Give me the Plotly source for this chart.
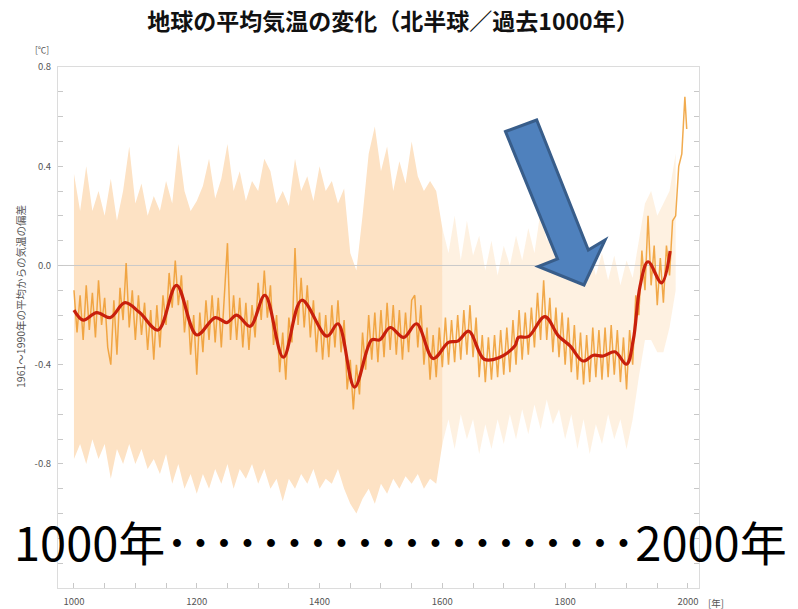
import plotly.graph_objects as go

# ---------------- data ----------------
title_text = "地球の平均気温の変化（北半球／過去1000年）"
y_title_text = "1961～1990年の平均からの気温の偏差"
big_text = "1000年" + "･" * 20 + "2000年"

band1_years = list(range(1000, 1601, 10))
band1_upper = [0.37, 0.22, 0.40, 0.22, 0.30, 0.20, 0.35, 0.18, 0.30, 0.48,
               0.25, 0.33, 0.20, 0.28, 0.22, 0.34, 0.25, 0.49, 0.30, 0.22,
               0.26, 0.32, 0.43, 0.27, 0.35, 0.49, 0.30, 0.38, 0.26, 0.34,
               0.30, 0.43, 0.38, 0.25, 0.30, 0.24, 0.43, 0.30, 0.36, 0.26,
               0.40, 0.30, 0.34, 0.25, 0.31, 0.05, -0.02, 0.20, 0.45, 0.56,
               0.38, 0.48, 0.30, 0.42, 0.33, 0.50, 0.36, 0.30, 0.34, 0.30,
               0.15]
band1_lower = [-0.78, -0.72, -0.80, -0.70, -0.78, -0.72, -0.86, -0.74, -0.80, -0.72,
               -0.80, -0.74, -0.82, -0.78, -0.84, -0.76, -0.88, -0.80, -0.90, -0.84,
               -0.92, -0.84, -0.90, -0.82, -0.88, -0.80, -0.90, -0.82, -0.86, -0.80,
               -0.88, -0.82, -0.90, -0.86, -0.95, -0.86, -0.90, -0.84, -0.88, -0.82,
               -0.90, -0.86, -0.88, -0.82, -0.90, -0.96, -1.00, -0.94, -0.90, -0.96,
               -0.88, -0.92, -0.86, -0.90, -0.85, -0.88, -0.84, -0.90, -0.86, -0.88,
               -0.72]

band2_years = list(range(1600, 1981, 10))
band2_upper = [0.15, 0.05, 0.20, 0.02, 0.18, 0.04, 0.12, -0.02, 0.10, -0.04,
               0.08, 0.00, 0.12, 0.02, 0.15, 0.05, 0.22, 0.10, 0.16, 0.04,
               0.10, -0.02, 0.05, -0.05, 0.06, -0.04, 0.05, -0.06, 0.04, -0.08,
               0.02, -0.05, 0.10, 0.25, 0.30, 0.20, 0.25, 0.30, 0.45]
band2_lower = [-0.72, -0.62, -0.74, -0.60, -0.70, -0.62, -0.76, -0.64, -0.74, -0.62,
               -0.72, -0.60, -0.70, -0.58, -0.68, -0.56, -0.66, -0.54, -0.64, -0.58,
               -0.70, -0.60, -0.74, -0.62, -0.76, -0.64, -0.72, -0.60, -0.70, -0.62,
               -0.74, -0.62, -0.45, -0.30, -0.30, -0.35, -0.35, -0.25, -0.10]

annual_years = list(range(1000, 1996, 5)) + [1998]
annual_values = [
    -0.10, -0.27, -0.12, -0.30, -0.08, -0.26, -0.11, -0.29, -0.06, -0.24,
    -0.13, -0.33, -0.40, -0.14, -0.36, -0.09, -0.22, 0.01, -0.25, -0.10,
    -0.30, -0.12, -0.28, -0.15, -0.34, -0.18, -0.38, -0.16, -0.33, -0.12,
    -0.24, -0.03, -0.17, 0.02, -0.16, -0.04, -0.27, -0.14, -0.36, -0.20,
    -0.44, -0.19, -0.35, -0.14, -0.30, -0.12, -0.31, -0.13, -0.33, -0.14,
    0.09, -0.30, -0.12, -0.30, -0.13, -0.33, -0.15, -0.34, -0.16, -0.29,
    -0.07, -0.22, -0.02, -0.21, -0.08, -0.32, -0.20, -0.43, -0.27, -0.46,
    -0.21, -0.31, 0.07, -0.24, -0.05, -0.25, -0.08, -0.29, -0.14, -0.35,
    -0.19, -0.38, -0.20, -0.37, -0.16, -0.33, -0.14, -0.35, -0.22, -0.50,
    -0.38, -0.58, -0.40, -0.52, -0.27, -0.42, -0.20, -0.38, -0.19, -0.39,
    -0.18, -0.37, -0.15, -0.34, -0.16, -0.36, -0.18, -0.38, -0.19, -0.35,
    -0.14, -0.12, -0.33, -0.16, -0.40, -0.25, -0.46, -0.28, -0.45, -0.25,
    -0.41, -0.21, -0.40, -0.22, -0.39, -0.20, -0.38, -0.18, -0.36, -0.16,
    -0.37, -0.21, -0.45, -0.28, -0.47, -0.29, -0.46, -0.28, -0.45, -0.26,
    -0.44, -0.25, -0.43, -0.22, -0.40, -0.18, -0.38, -0.19, -0.36, -0.17,
    -0.33, -0.11, -0.30, -0.06, -0.30, -0.13, -0.35, -0.17, -0.37, -0.19,
    -0.40, -0.21, -0.43, -0.24, -0.46, -0.27, -0.48, -0.28, -0.47, -0.25,
    -0.45, -0.26, -0.46, -0.25, -0.45, -0.24, -0.44, -0.26, -0.47, -0.29,
    -0.50, -0.26, -0.40, -0.12, -0.20, 0.06, -0.10, 0.20, -0.08, 0.08,
    -0.16, 0.03, -0.15, 0.08, -0.04, 0.18, 0.20, 0.40, 0.45, 0.68,
    0.55]

smooth_years = [1000, 1015, 1037, 1059, 1083, 1107, 1137, 1167, 1200, 1230,
                1249, 1265, 1287, 1311, 1341, 1371, 1412, 1430, 1457, 1485,
                1498, 1515, 1537, 1558, 1585, 1610, 1625, 1643, 1668, 1692,
                1718, 1724, 1740, 1767, 1789, 1808, 1829, 1846, 1862, 1881,
                1900, 1911, 1922, 1935, 1957, 1971]
smooth_values = [-0.18, -0.22, -0.19, -0.21, -0.15, -0.19, -0.26, -0.08, -0.28, -0.21,
                 -0.23, -0.20, -0.245, -0.12, -0.37, -0.14, -0.285, -0.235, -0.49, -0.30,
                 -0.30, -0.25, -0.29, -0.235, -0.375, -0.31, -0.305, -0.265, -0.378, -0.372,
                 -0.325, -0.29, -0.287, -0.206, -0.284, -0.324, -0.385, -0.362, -0.365, -0.348,
                 -0.398, -0.30, -0.083, 0.015, -0.07, 0.058]

x_range = [974, 2018]
y_range = [-1.3, 0.8]
x_tick_values = list(range(1000, 2001, 50))
x_tick_labels = ["1000", "1200", "1400", "1600", "1800", "2000"]
y_tick_values = [round(-1.2 + 0.1 * i, 1) for i in range(21)]
y_tick_labels = ["-0.8", "-0.4", "0.0", "0.4", "0.8"]

# ---------------- figure ----------------
W, H = 798, 609
L, R, T, B = 58, 99, 67, 21
PW, PH = W - L - R, H - T - B


def px(xp, yp):
    return (xp - L) / PW, (H - B - yp) / PH


fig = go.Figure()

peach = "rgb(253,226,196)"
peach_light = "rgba(252,212,165,0.33)"

fig.add_trace(go.Scatter(x=band1_years, y=band1_lower, mode="lines",
                         line=dict(width=0, color=peach), hoverinfo="skip"))
fig.add_trace(go.Scatter(x=band1_years, y=band1_upper, mode="lines", fill="tonexty",
                         fillcolor=peach, line=dict(width=0, color=peach), hoverinfo="skip"))
fig.add_trace(go.Scatter(x=band2_years, y=band2_lower, mode="lines",
                         line=dict(width=0, color=peach_light), hoverinfo="skip"))
fig.add_trace(go.Scatter(x=band2_years, y=band2_upper, mode="lines", fill="tonexty",
                         fillcolor=peach_light, line=dict(width=0, color=peach_light),
                         hoverinfo="skip"))
fig.add_trace(go.Scatter(x=x_range, y=[0, 0], mode="lines",
                         line=dict(color="#c9c9c9", width=1), hoverinfo="skip"))
fig.add_trace(go.Scatter(x=annual_years, y=annual_values, mode="lines",
                         line=dict(color="rgba(238,150,35,0.8)", width=1.5)))
fig.add_trace(go.Scatter(x=smooth_years, y=smooth_values, mode="lines",
                         line=dict(color="#c8200c", width=3.2, shape="spline", smoothing=1.0)))

x_ticktext = [str(v) if str(v) in x_tick_labels else "" for v in x_tick_values]
y_ticktext = []
for v in y_tick_values:
    s = f"{v:.1f}".replace("-0.0", "0.0")
    y_ticktext.append(s if s in y_tick_labels else "")

axis_grey = "#dcdcdc"
tick_font = dict(family="Noto Sans CJK JP, Noto Sans", size=9.5, color="#555555")

fig.update_xaxes(range=x_range, showgrid=False, zeroline=False, showline=True,
                 linecolor=axis_grey, linewidth=1, mirror=True, automargin=False,
                 tickmode="array", tickvals=x_tick_values, ticktext=x_ticktext,
                 ticks="inside", ticklen=5, tickcolor="#c8c8c8", tickfont=tick_font,
                 ticklabelstandoff=5)
fig.update_yaxes(range=y_range, showgrid=False, zeroline=False, showline=True,
                 linecolor=axis_grey, linewidth=1, mirror="ticks", automargin=False,
                 tickmode="array", tickvals=y_tick_values, ticktext=y_ticktext,
                 ticks="inside", ticklen=5, tickcolor="#c8c8c8", tickfont=tick_font,
                 ticklabelstandoff=4)

# arrow (pixel vertices of the block arrow)
arrow_px = [(505.5, 131.5), (536.7, 120.0), (588.3, 250.0), (605.0, 240.0),
            (584.0, 285.0), (538.3, 266.5), (557.5, 259.0)]
pts = [px(a, b) for a, b in arrow_px]
path = "M " + " L ".join(f"{x:.4f},{y:.4f}" for x, y in pts) + " Z"

fig.update_layout(
    width=W, height=H,
    margin=dict(l=L, r=R, t=T, b=B, autoexpand=False),
    plot_bgcolor="white", paper_bgcolor="white",
    showlegend=False,
    font=dict(family="Noto Sans CJK JP"),
    title=dict(text="<b>" + title_text + "</b>", x=393 / W, xanchor="center",
               y=1 - 22 / H, yanchor="middle", yref="container",
               font=dict(family="Noto Sans CJK JP", size=23, color="#111111")),
    shapes=[dict(type="path", path=path, xref="paper", yref="paper",
                 fillcolor="#4f81bd", line=dict(color="#385d8a", width=3), layer="above")],
)

ann = []
x0, y0 = px(20, 297)
ann.append(dict(text=y_title_text, x=x0, y=y0, xref="paper", yref="paper", showarrow=False,
                xanchor="center", yanchor="middle", textangle=-90,
                font=dict(size=10.5, color="#555555", family="Noto Sans CJK JP")))
x0, y0 = px(42, 49)
ann.append(dict(text="[℃]", x=x0, y=y0, xref="paper", yref="paper", showarrow=False,
                xanchor="center", yanchor="middle",
                font=dict(size=8.5, color="#555555", family="Noto Sans CJK JP")))
x0, y0 = px(716, 603)
ann.append(dict(text="[年]", x=x0, y=y0, xref="paper", yref="paper", showarrow=False,
                xanchor="center", yanchor="middle",
                font=dict(size=9.5, color="#555555", family="Noto Sans CJK JP")))
x0, y0 = px(400, 540)
ann.append(dict(text=big_text, x=x0, y=y0, xref="paper", yref="paper", showarrow=False,
                xanchor="center", yanchor="middle",
                font=dict(size=47, color="#000000", family="Noto Sans CJK JP")))
fig.update_layout(annotations=ann)

fig.write_html("out.html", config={"displayModeBar": False},
               post_script="document.body.style.margin='0px';")
